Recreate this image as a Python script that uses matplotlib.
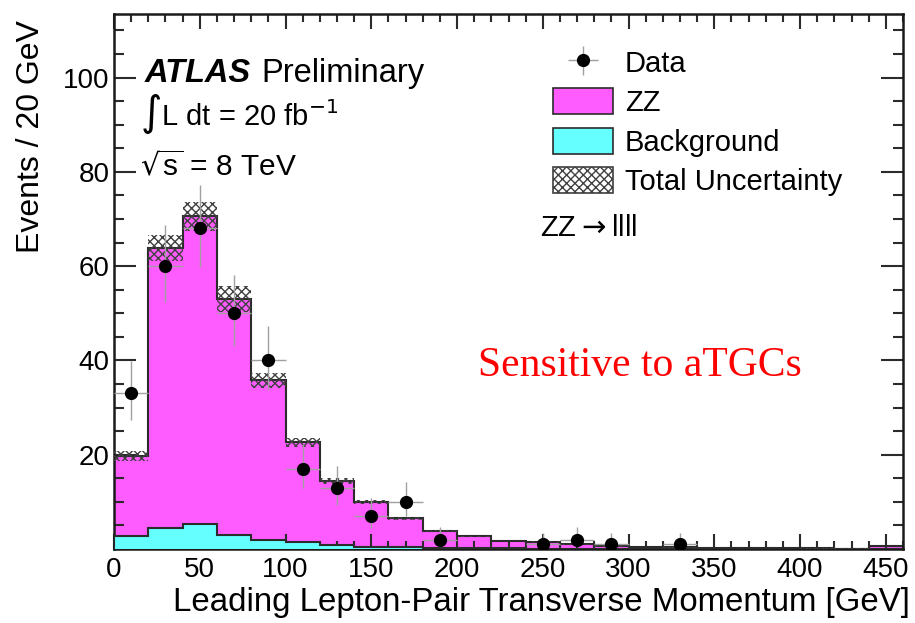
import numpy as np
import matplotlib
matplotlib.use("Agg")
import matplotlib.pyplot as plt
from matplotlib.patches import Patch

plt.rcParams['font.family'] = ['Liberation Sans', 'DejaVu Sans']
plt.rcParams['mathtext.fontset'] = 'dejavusans'
plt.rcParams['hatch.linewidth'] = 1.0

# ---------------- data ----------------
bin_edges = np.arange(0, 461, 20)
zz = [16.9, 59.4, 65.4, 50.0, 33.9, 21.2, 13.55, 9.5, 6.1, 3.5, 2.5, 1.55,
      1.4, 0.9, 0.55, 0.35, 0.32, 0.22, 0.18, 0.13, 0.10, 0.09, 0.55]
background = [2.8, 4.4, 5.2, 3.0, 1.9, 1.4, 0.85, 0.5, 0.4, 0.3, 0.2, 0.15,
              0.1, 0.1, 0.05, 0.05, 0.03, 0.03, 0.02, 0.02, 0.02, 0.01, 0.05]
total_unc = [1.0, 2.8, 3.1, 2.7, 1.6, 1.0, 0.6, 0.4, 0.3, 0.2, 0.15, 0.1,
             0.1, 0.1, 0.08, 0.08, 0.07, 0.05, 0.05, 0.04, 0.04, 0.03, 0.05]

data_x = [10, 30, 50, 70, 90, 110, 130, 150, 170, 190, 250, 270, 290, 330]
data_y = [33, 60, 68, 50, 40, 17, 13, 7, 10, 2, 1, 2, 1, 1]
data_err_lo = [5.7, 7.7, 8.2, 7.0, 6.3, 4.1, 3.6, 2.6, 3.1, 1.3, 0.8, 1.3, 0.8, 0.8]
data_err_hi = [6.8, 8.8, 9.3, 8.1, 7.4, 5.2, 4.7, 3.8, 4.3, 2.6, 2.3, 2.6, 2.3, 2.3]
data_xerr = [10] * len(data_x)

xticks = [0, 50, 100, 150, 200, 250, 300, 350, 400, 450]
yticks = [20, 40, 60, 80, 100]

MAGENTA = '#ff5cff'
CYAN = '#66ffff'
EDGE = '#2b2b2b'
HATCH = '#404040'

W, H = 915, 623
fig = plt.figure(figsize=(W / 100, H / 100), dpi=100)
L, R, T, B = 114, 903, 14, 549
ax = fig.add_axes([L / W, 1 - B / H, (R - L) / W, (B - T) / H])

zz_arr = np.array(zz)
bkg_arr = np.array(background)
tot = zz_arr + bkg_arr
unc = np.array(total_unc)

# stacked histograms
ax.stairs(tot, bin_edges, fill=True, color=MAGENTA, zorder=1)
ax.stairs(tot, bin_edges, fill=False, color=EDGE, lw=1.5, baseline=0, zorder=2)
ax.stairs(bkg_arr, bin_edges, fill=True, color=CYAN, zorder=3)
ax.stairs(bkg_arr, bin_edges, fill=False, color=EDGE, lw=1.5, baseline=0, zorder=4)

# uncertainty band
ax.bar(bin_edges[:-1], 2 * unc, bottom=tot - unc, width=20, align='edge',
       fill=False, hatch='xxxx', edgecolor=HATCH, linewidth=0, zorder=5)

# data
eb = ax.errorbar(data_x, data_y, yerr=[data_err_lo, data_err_hi], xerr=data_xerr,
                 fmt='o', color='black', ms=8.5, ecolor='#a0a0a0', elinewidth=1.0,
                 capsize=0, zorder=6)

ax.set_xlim(0, 460)
ax.set_ylim(0, 113.5)
ax.set_xticks(xticks)
ax.set_xticklabels([str(v) for v in xticks])
ax.set_yticks(yticks)
ax.set_yticklabels([str(v) for v in yticks])
ax.set_xticks(np.arange(0, 461, 10), minor=True)
ax.set_yticks(np.arange(0, 114, 5), minor=True)
ax.tick_params(which='both', direction='in', top=True, right=True, width=1.5, color=EDGE)
ax.tick_params(axis='x', which='major', length=11, labelsize=20, pad=6)
ax.tick_params(axis='x', which='minor', length=5.5)
ax.tick_params(axis='y', which='major', length=16, labelsize=20, pad=3)
ax.tick_params(axis='y', which='minor', length=7.5)
for s in ax.spines.values():
    s.set_linewidth(1.8)
    s.set_color('#1a1a1a')

ax.set_ylabel('Events / 20 GeV', fontsize=23)
ax.yaxis.set_label_coords((46 - L) / (R - L), (B - 137) / (B - T))
ax.set_xlabel('Leading Lepton-Pair Transverse Momentum [GeV]', fontsize=23.8, loc='right')
ax.xaxis.set_label_coords((910 - L) / (R - L), (B - 587) / (B - T))

def fx(px):
    return px / W

def fy(py):
    return 1 - py / H

fig.text(fx(145), fy(82), 'ATLAS', fontsize=23.5, fontweight='bold', fontstyle='italic',
         va='baseline')
fig.text(fx(261), fy(82), 'Preliminary', fontsize=23.5, va='baseline')
fig.text(fx(140), fy(125), r'$\int$L dt = 20 fb$^{-1}$', fontsize=21, va='baseline')
fig.text(fx(140), fy(175), r'$\sqrt{\mathregular{s}}$ = 8 TeV', fontsize=21.5, va='baseline')
fig.text(fx(540), fy(228), r'ZZ$\rightarrow$llll', fontsize=21, va='center')
fig.text(fx(478), fy(376), 'Sensitive to aTGCs', fontsize=30, color='#ff0000',
         family=['Liberation Serif', 'DejaVu Serif'], va='baseline')

handles = [eb,
           Patch(facecolor=MAGENTA, edgecolor=EDGE, lw=1.2),
           Patch(facecolor=CYAN, edgecolor=EDGE, lw=1.2),
           Patch(facecolor='white', edgecolor=HATCH, hatch='xxxx', lw=1.2)]
labels = ['Data', 'ZZ', 'Background', 'Total Uncertainty']
fs = 21
fs_px = fs * 100 / 72
leg = fig.legend(handles, labels, loc='upper left',
                 bbox_to_anchor=(fx(553), fy(49)), frameon=False, fontsize=fs,
                 borderpad=0, borderaxespad=0, handlelength=60 / fs_px,
                 handleheight=29 / fs_px, handletextpad=12 / fs_px,
                 labelspacing=0.36)

fig.savefig('out.png', dpi=100)
